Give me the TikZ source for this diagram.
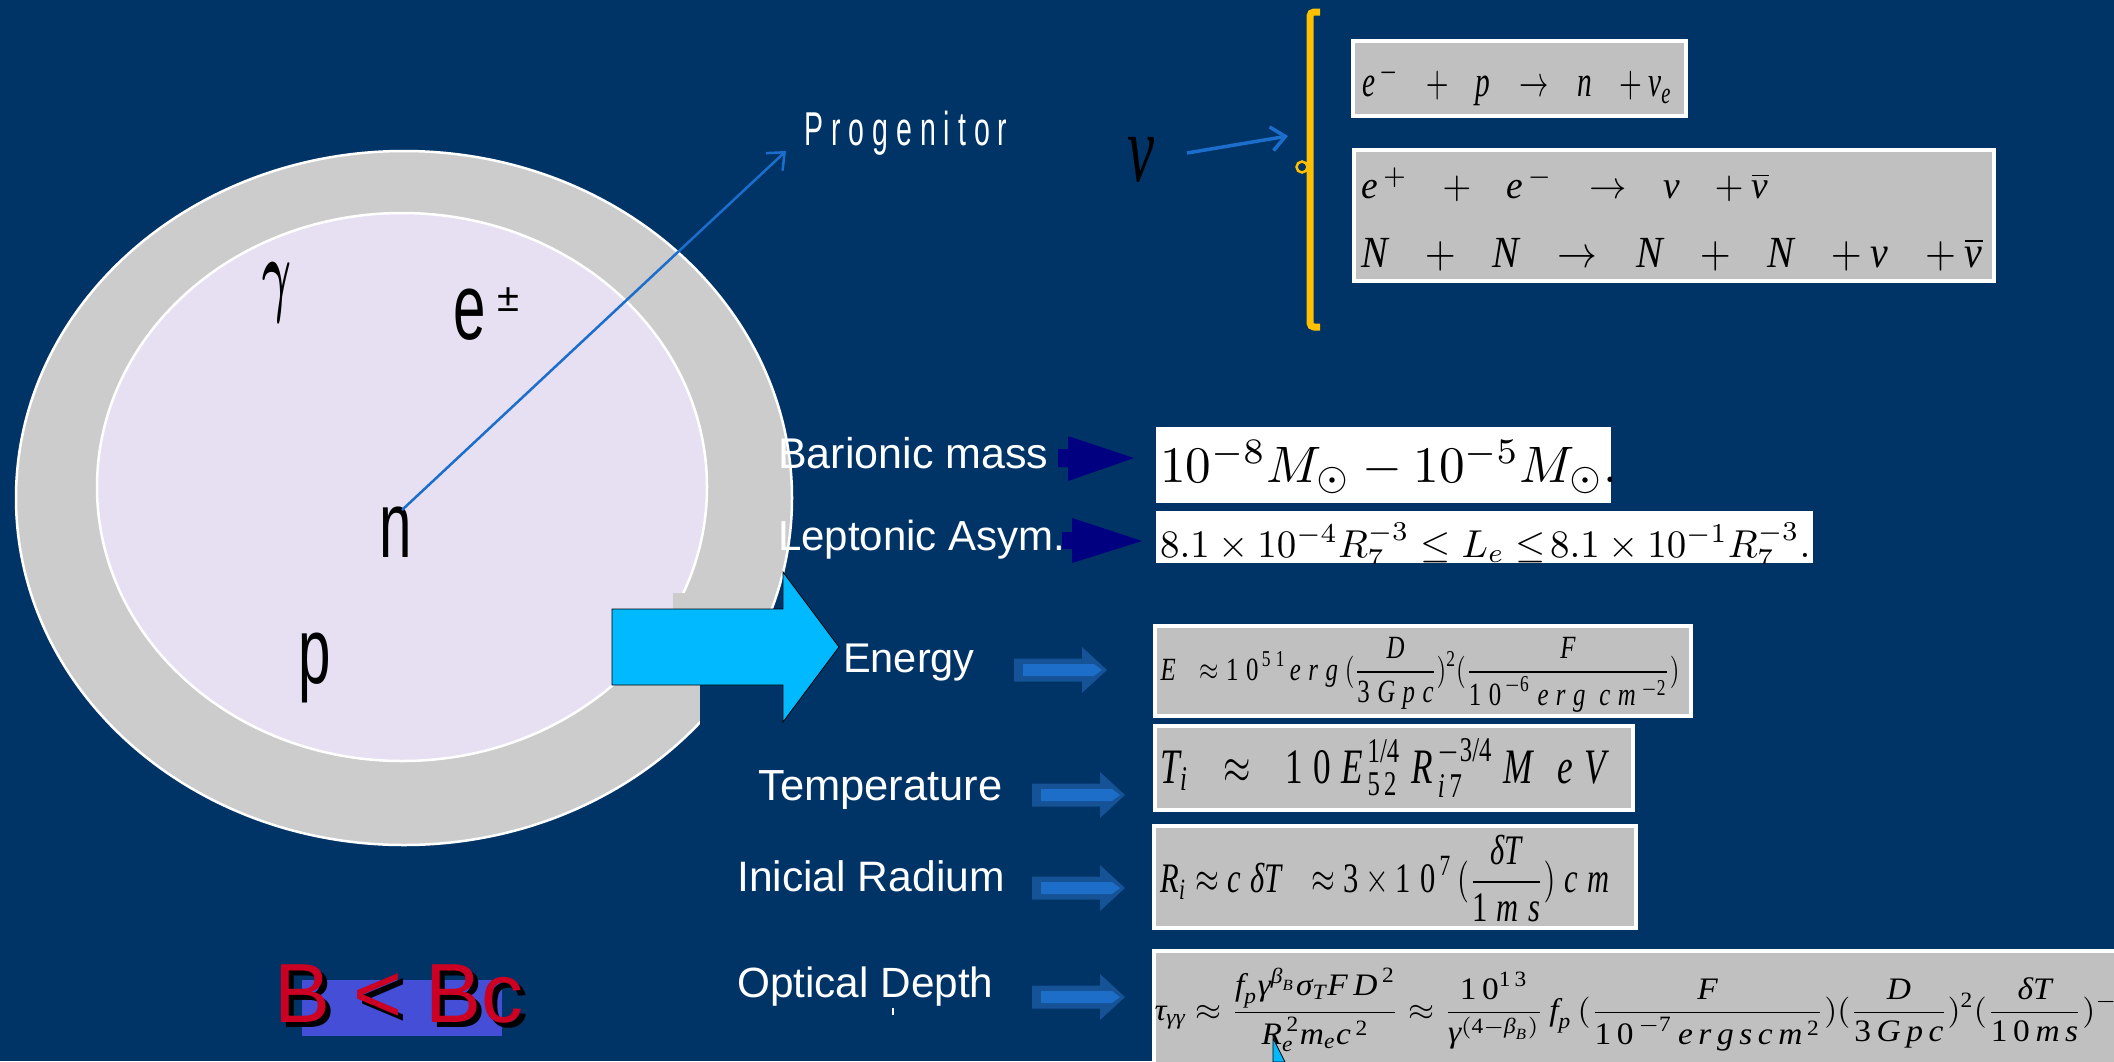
\documentclass[tikz,border=0pt]{standalone}
\usepackage[no-math]{fontspec}
\usepackage{amsmath}
\usepackage{graphicx}
\setmainfont{Liberation Sans}
\newfontfamily\tms{Liberation Serif}
\usetikzlibrary{arrows.meta}
\definecolor{bg}{RGB}{0,51,102}
\definecolor{ringgray}{RGB}{204,204,204}
\definecolor{lav}{RGB}{230,224,242}
\definecolor{boxgray}{RGB}{192,192,192}
\definecolor{linkblue}{RGB}{28,110,205}
\definecolor{cyanarrow}{RGB}{0,185,255}
\definecolor{navyarrow}{RGB}{0,0,128}
\definecolor{arrout}{RGB}{22,82,150}
\definecolor{arrin}{RGB}{28,110,200}
\definecolor{yel}{RGB}{255,192,0}
\definecolor{bred}{RGB}{204,0,34}
\definecolor{bblue}{RGB}{68,78,214}
\newcommand\vi[1]{\text{\tms\itshape #1}}
\newcommand\vu[1]{\text{\tms #1}}
\newcommand\gp{\hspace{0.7em}}
\newcommand\lsp{\hspace{0.3em}}
\tikzset{
  barrow/.pic={
    \fill[arrout] (0,-11.5) -- (68,-11.5) -- (68,-23) -- (93,0) -- (68,23) -- (68,11.5) -- (0,11.5) -- cycle;
    \fill[arrin] (9,-6) -- (80,-6) -- (88,0) -- (80,6) -- (9,6) -- cycle;
  },
  lbl/.style={text=white, inner sep=0pt, anchor=base west, font=\fontsize{42}{48}\selectfont},
  bigl/.style={text=black, inner sep=0pt, anchor=base, font=\fontsize{94}{100}\selectfont},
  fbox/.style={fill=boxgray, draw=white, line width=4.5pt},
  frm/.style={inner sep=0pt, anchor=center, text=black},
  link/.style={draw=linkblue, line width=2.5pt, -{Straight Barb[length=14pt,width=24pt]}}
}
\begin{document}
\begin{tikzpicture}[x=1pt,y=-1pt]
\useasboundingbox (0,0) rectangle (2114,1061);
\clip (0,0) rectangle (2114,1061);
\fill[bg] (0,0) rectangle (2114,1061);

% star: ring and core
\filldraw[fill=ringgray, draw=white, line width=2.5pt] (404,498) ellipse [x radius=388pt, y radius=347pt];
\filldraw[fill=lav, draw=white, line width=2.5pt] (402,487) ellipse [x radius=305pt, y radius=274pt];
\fill[ringgray] (673,593) rectangle (702,700);
\fill[bg] (700,609) rectangle (800,850);
\filldraw[fill=cyanarrow, draw=black, line width=0.8pt] (612,609) -- (783,609) -- (783,572) -- (839,647) -- (783,722) -- (783,685) -- (612,685) -- cycle;

% particles
\node[frm] (glab) at (277,293) {\resizebox*{29pt}{60pt}{$\boldsymbol{\gamma}$}};
\node[bigl] (elab) at (470,339) {\scalebox{0.62}[1]{e}};
\node[inner sep=0pt, anchor=base, font=\fontsize{40}{44}\selectfont] (pm) at (508,311) {±};
\node[bigl] (nlab) at (396,557) {\scalebox{0.62}[1]{n}};
\node[bigl] (plab) at (315,683) {\scalebox{0.62}[1]{p}};

% progenitor link
\node[inner sep=0pt, anchor=base west, text=white, font=\fontsize{47.5}{50}\selectfont] (prog) at (804,145) {\scalebox{0.6}[1]{\addfontfeatures{LetterSpace=28}Progenitor}};
\coordinate (nstart) at (402,510);
\coordinate (progtip) at (786,151);
\draw[link] (nstart) -- (progtip);

% neutrino bracket
\node[frm] (nu) at (1141,160) {\resizebox*{27pt}{45pt}{\tms\itshape ν}};
\coordinate (nutail) at (1187,153);
\coordinate (nuhead) at (1288,136);
\draw[link, line width=3.5pt] (nutail) -- (nuhead);
\draw[yel, line width=7pt, rounded corners=4pt] (1320,12) -- (1310,12) -- (1310,327) -- (1320,327);
\filldraw[draw=yel, fill=bg, line width=2.5pt] (1302,167) circle (5.5pt);

\draw[fbox] (1353,41) rectangle (1686,116);
\node[frm] (f1) at (1517,84) {\resizebox*{310pt}{44pt}{$\vi{e}^{\,-}\gp+\gp\vi{p}\gp\to\gp\vi{n}\gp+\vi{ν}_{\vi{e}}$}};
\draw[fbox] (1354,150) rectangle (1994,281);
\node[frm] (f2a) at (1565,185) {\resizebox*{407pt}{34pt}{$\vi{e}^{\,+}\gp+\gp\vi{e}^{\,-}\gp\to\gp\vi{ν}\gp+\overline{\vi{ν}}$}};
\node[frm] (f2b) at (1672,255) {\resizebox*{621pt}{33pt}{$\vi{N}\gp+\gp\vi{N}\gp\to\gp\vi{N}\gp+\gp\vi{N}\gp+\vi{ν}\gp+\overline{\vi{ν}}$}};

% navy arrows
\fill[navyarrow] (1058,449) -- (1068,449) -- (1068,436) -- (1134,458) -- (1068,481) -- (1068,467) -- (1058,467) -- cycle;
\fill[navyarrow] (1062,532) -- (1072,532) -- (1072,518) -- (1142,541) -- (1072,563) -- (1072,549) -- (1062,549) -- cycle;

% labels
\node[lbl, font=\fontsize{43}{48}\selectfont] (bar) at (778,468) {Barionic mass};
\node[lbl] (lep) at (778,550) {Leptonic Asym.};
\node[lbl, font=\fontsize{41.5}{46}\selectfont] (ene) at (843,672) {Energy};
\node[lbl, font=\fontsize{43.5}{48}\selectfont] (tem) at (758,800) {Temperature};
\node[lbl, font=\fontsize{42.6}{48}\selectfont] (rad) at (737,891) {Inicial Radium};
\node[lbl, font=\fontsize{42.3}{48}\selectfont] (opt) at (737,997) {Optical Depth};
\draw[white, line width=1.5pt] (893,1008) -- (893,1015);

% blue arrows
\pic at (1014,670) {barrow};
\pic at (1032,795) {barrow};
\pic at (1032,888) {barrow};
\pic at (1032,997) {barrow};

% white formula boxes
\fill[white] (1156,427) rectangle (1611,503);
\begin{scope}
\clip (1156,427) rectangle (1611,503);
\node[inner sep=0pt, anchor=base west] (fB) at (1160,482) {\resizebox{458pt}{!}{$10^{-8}M_{\odot}-10^{-5}M_{\odot}.$}};
\end{scope}
\fill[white] (1156,511) rectangle (1813,563);
\begin{scope}
\clip (1156,511) rectangle (1813,563);
\node[inner sep=0pt, anchor=base west] (fL) at (1160,557) {\resizebox{650pt}{!}{$8.1\times10^{-4}R_7^{-3}\leq L_e\leq\!8.1\times10^{-1}R_7^{-3}.$}};
\end{scope}

% gray formula boxes
\draw[fbox] (1155,626) rectangle (1691,716);
\node[frm] (fE) at (1420,674.5) {\resizebox*{519pt}{75pt}{$\displaystyle \vi{E}\gp\approx\vu{1\lsp0}^{\,\vu{5\lsp1}}\,\vi{e\lsp r\lsp g}\;(\frac{\vi{D}}{\vu{3}\lsp\vi{G\lsp p\lsp c}})^{\vu{2}}(\frac{\vi{F}}{\vu{1\lsp0}^{\,-\vu{6}}\lsp\vi{e\lsp r\lsp g}\;\;\vi{c\lsp m}^{\;-\vu{2}}})$}};
\draw[fbox] (1155,726) rectangle (1633,810);
\node[frm] (fT) at (1383,768) {\resizebox*{445pt}{58pt}{$\vi{T}_{\vi{i}}\gp\approx\gp\vu{1\lsp0}\lsp\vi{E}^{\,\vu{1/4}}_{\,\vu{5\,2}}\lsp\vi{R}^{\,-\vu{3/4}}_{\,\vi{i}\,\vu{7}}\lsp\vi{M}\gp\vi{e}\lsp\vi{V}$}};
\draw[fbox] (1154,826) rectangle (1636,928);
\node[frm] (fR) at (1385,878.5) {\resizebox*{449pt}{87pt}{$\displaystyle\vi{R}_{\vi{i}}\approx\vi{c}\lsp\vi{δT}\gp\approx\vu{3}\times\vu{1\lsp0}^{\,\vu{7}}\,(\frac{\vi{δT}}{\vu{1}\lsp\vi{m\lsp s}})\lsp\vi{c\lsp m}$}};
\draw[fbox] (1154,951) rectangle (2140,1080);
\node[frm] (fO) at (1642,1010) {\resizebox*{975pt}{84pt}{$\displaystyle\vi{τ}_{\vi{γγ}}\approx\frac{\vi{f}_{\vi{p}}\vi{γ}^{\vi{β}_{\vi{B}}}\vi{σ}_{\vi{T}}\vi{F\,D}^{\,\vu{2}}}{\vi{R}_{\vi{e}}^{\,\vu{2}}\vi{m}_{\vi{e}}\vi{c}^{\,\vu{2}}}\approx\frac{\vu{1\,0}^{\vu{1\,3}}}{\vi{γ}^{(\vu{4}-\vi{β}_{\vi{B}})}}\,\vi{f}_{\vi{p}}\,(\frac{\vi{F}}{\vu{1\,0}^{\,-\vu{7}}\,\vi{e\,r\,g\,s\,c\,m}^{\,\vu{2}}})(\frac{\vi{D}}{\vu{3}\,\vi{G\,p\,c}})^{\vu{2}}(\frac{\vi{δT}}{\vu{1\,0}\,\vi{m\,s}})^{-\vu{2}}$}};
\filldraw[fill=cyanarrow, draw=black, line width=0.8pt] (1273,1038) -- (1285,1062) -- (1273,1062) -- cycle;

% B < Bc
\fill[bblue] (302,980) rectangle (502,1036);
\node[inner sep=0pt, anchor=base west, font=\fontsize{84}{90}\selectfont, text=black] (bshadow) at (279,1027) {B < Bc};
\node[inner sep=0pt, anchor=base west, font=\fontsize{84}{90}\selectfont, text=bred] (bcrit) at (274,1022) {B < Bc};
\end{tikzpicture}
\end{document}
